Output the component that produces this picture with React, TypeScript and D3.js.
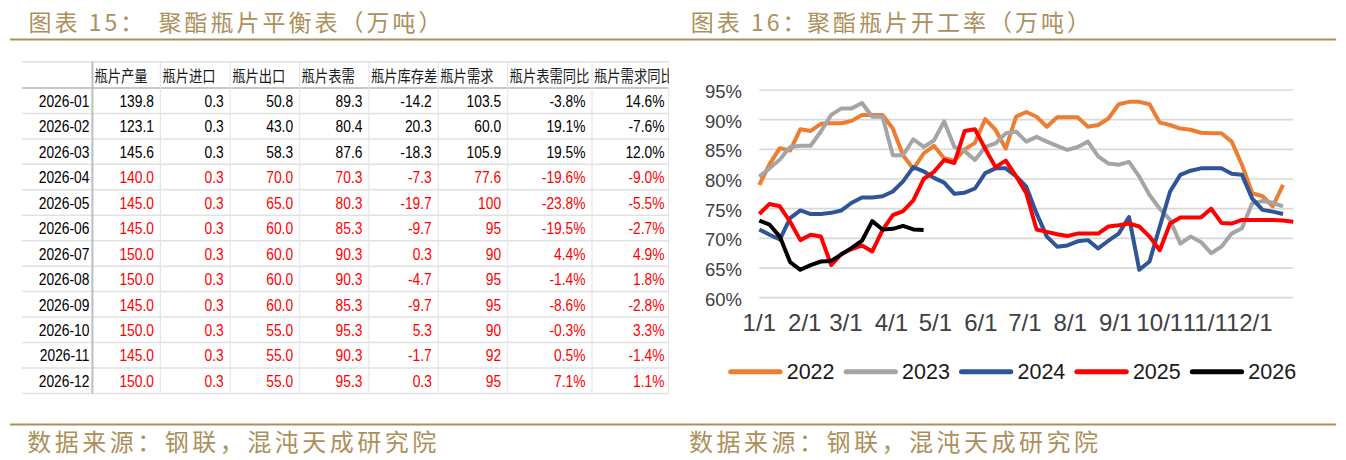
import { useRef, useEffect } from 'react';
import * as d3 from 'd3';

// ---- table data (万吨) ----
const tableMonths = ['2026-01', '2026-02', '2026-03', '2026-04', '2026-05', '2026-06', '2026-07', '2026-08', '2026-09', '2026-10', '2026-11', '2026-12'];
const tableHeaders = ['瓶片产量', '瓶片进口', '瓶片出口', '瓶片表需', '瓶片库存差', '瓶片需求', '瓶片表需同比', '瓶片需求同比'];
const output = ['139.8', '123.1', '145.6', '140.0', '145.0', '145.0', '150.0', '150.0', '145.0', '150.0', '145.0', '150.0'];
const imports = ['0.3', '0.3', '0.3', '0.3', '0.3', '0.3', '0.3', '0.3', '0.3', '0.3', '0.3', '0.3'];
const exports_ = ['50.8', '43.0', '58.3', '70.0', '65.0', '60.0', '60.0', '60.0', '60.0', '55.0', '55.0', '55.0'];
const apparent = ['89.3', '80.4', '87.6', '70.3', '80.3', '85.3', '90.3', '90.3', '85.3', '95.3', '90.3', '95.3'];
const invDiff = ['-14.2', '20.3', '-18.3', '-7.3', '-19.7', '-9.7', '0.3', '-4.7', '-9.7', '5.3', '-1.7', '0.3'];
const demand = ['103.5', '60.0', '105.9', '77.6', '100', '95', '90', '95', '95', '90', '92', '95'];
const apparentYoY = ['-3.8%', '19.1%', '19.5%', '-19.6%', '-23.8%', '-19.5%', '4.4%', '-1.4%', '-8.6%', '-0.3%', '0.5%', '7.1%'];
const demandYoY = ['14.6%', '-7.6%', '12.0%', '-9.0%', '-5.5%', '-2.7%', '4.9%', '1.8%', '-2.8%', '3.3%', '-1.4%', '1.1%'];
const actualRows = 3; // first 3 months are actuals (black), rest forecast (red)

// ---- operating rate, weekly (%) ----
const years = ['2022', '2023', '2024', '2025', '2026'];
const rate2022 = [79.0, 82.5, 85.2, 84.8, 88.4, 88.1, 89.3, 89.4, 89.4, 89.8, 90.8, 90.8, 90.8, 88.5, 84.0, 81.7, 84.3, 85.6, 83.5, 83.1, 85.0, 86.1, 90.1, 88.3, 85.1, 90.5, 91.3, 90.5, 88.8, 90.4, 90.4, 90.4, 88.8, 89.1, 90.2, 92.6, 93.0, 93.0, 92.6, 89.5, 89.1, 88.5, 88.3, 87.8, 87.7, 87.7, 86.3, 82.4, 77.6, 77.1, 75.4, 79.0];
const rate2023 = [80.4, 81.8, 83.3, 85.4, 85.6, 85.6, 88.0, 90.8, 91.9, 91.9, 92.8, 90.5, 90.5, 84.0, 84.0, 86.7, 85.4, 86.5, 89.7, 85.4, 84.7, 83.2, 85.4, 86.0, 87.7, 88.0, 86.3, 87.1, 86.3, 85.6, 84.9, 85.4, 86.3, 83.8, 82.6, 82.4, 82.9, 80.4, 77.3, 75.0, 73.1, 69.1, 70.3, 69.4, 67.5, 68.6, 70.8, 71.7, 75.9, 76.3, 76.0, 75.4];
const rate2024 = [71.5, 70.6, 69.8, 73.4, 74.7, 74.1, 74.1, 74.3, 74.7, 76.0, 76.9, 76.9, 77.1, 77.9, 79.6, 82.0, 81.3, 80.2, 79.4, 77.5, 77.7, 78.4, 81.0, 81.8, 81.8, 80.5, 78.7, 74.2, 70.3, 68.6, 68.8, 69.5, 69.7, 68.3, 69.6, 70.8, 73.6, 64.7, 66.1, 72.0, 77.9, 80.7, 81.4, 81.8, 81.8, 81.8, 80.9, 80.7, 76.7, 74.8, 74.5, 74.1];
const rate2025 = [74.1, 75.8, 75.4, 72.8, 69.7, 70.6, 70.3, 65.5, 67.4, 68.2, 68.8, 67.8, 71.4, 73.9, 74.6, 76.4, 80.0, 81.2, 83.2, 82.7, 88.1, 88.4, 85.1, 82.0, 83.1, 80.5, 77.6, 71.5, 71.1, 70.7, 70.4, 70.8, 70.8, 70.8, 72.0, 72.2, 72.5, 72.0, 70.3, 68.0, 72.5, 73.5, 73.5, 73.5, 75.0, 72.6, 72.5, 73.1, 73.1, 73.1, 73.1, 73.0, 72.8];
const rate2026 = [73.0, 72.3, 70.3, 66.0, 64.7, 65.5, 66.1, 66.2, 67.3, 68.4, 69.6, 72.9, 71.5, 71.6, 72.1, 71.5, 71.4];
const seriesColors = ['#ED7D31', '#A5A5A5', '#2F5597', '#FF0000', '#000000'];

const yTicks = [60, 65, 70, 75, 80, 85, 90, 95];
const monthLabels = ['1/1', '2/1', '3/1', '4/1', '5/1', '6/1', '7/1', '8/1', '9/1', '10/1', '11/1', '12/1'];
const monthDays = [0, 31, 59, 90, 120, 151, 181, 212, 243, 273, 304, 334];

const GOLD = '#AD8F5C';
const CJK = '"Noto Sans CJK SC", sans-serif';
const LATIN = '"Liberation Sans", Arial, sans-serif';

export default function App() {
  const svgRef = useRef<SVGSVGElement>(null);

  useEffect(() => {
    const svg = d3.select(svgRef.current!);
    svg.selectAll('*').remove();

    // ---- titles & footers ----
    const titleG = svg.append('g');
    const titles = [
      { x: 28.6, t: '图表 15：' },
      { x: 158.6, t: '聚酯瓶片平衡表（万吨）' },
      { x: 690.8, t: '图表 16：' },
      { x: 807, t: '聚酯瓶片开工率（万吨）' },
    ];
    titleG.selectAll('text.title')
      .data(titles)
      .join('text')
      .attr('x', (d) => d.x)
      .attr('y', 31)
      .attr('font-family', CJK)
      .attr('font-size', 23)
      .attr('letter-spacing', 3)
      .attr('fill', GOLD)
      .text((d) => d.t);
    titleG.append('line').attr('x1', 10).attr('x2', 1336).attr('y1', 39.5).attr('y2', 39.5)
      .attr('stroke', GOLD).attr('stroke-width', 2);
    titleG.append('line').attr('x1', 10).attr('x2', 1336).attr('y1', 424.5).attr('y2', 424.5)
      .attr('stroke', GOLD).attr('stroke-width', 2);
    titleG.selectAll('text.foot')
      .data([27.3, 689])
      .join('text')
      .attr('x', (d) => d)
      .attr('y', 451)
      .attr('font-family', CJK)
      .attr('font-size', 24)
      .attr('letter-spacing', 3.5)
      .attr('fill', GOLD)
      .text('数据来源：钢联，混沌天成研究院');

    // ---- table ----
    const tbl = svg.append('g');
    const colEdges = [22, 92.4, 160.4, 230.2, 299.6, 368.9, 438.3, 507.6, 592, 671];
    const tableRight = 669;
    const headerTop = 61.7;
    const headerBottom = 88;
    const rowH = 25.45;
    const rowY = (i: number) => headerBottom + rowH * (i + 0.5);
    const bottom = headerBottom + rowH * tableMonths.length;

    tbl.append('clipPath').attr('id', 'tclip')
      .append('rect').attr('x', 0).attr('y', 0).attr('width', tableRight).attr('height', 460);
    const tc = tbl.append('g').attr('clip-path', 'url(#tclip)');

    // horizontal grid
    const hLines = [headerTop, ...d3.range(tableMonths.length + 1).map((i) => headerBottom + rowH * i)];
    tc.selectAll('line.h').data(hLines).join('line')
      .attr('x1', 22).attr('x2', tableRight)
      .attr('y1', (d) => d).attr('y2', (d) => d)
      .attr('stroke', (d) => (d === headerBottom ? '#C8C8C8' : '#E1E1E1'))
      .attr('stroke-width', (d) => (d === headerBottom ? 2 : 1.5));
    // vertical grid
    tc.selectAll('line.v').data(colEdges.slice(1, -1)).join('line')
      .attr('x1', (d) => d).attr('x2', (d) => d)
      .attr('y1', headerTop).attr('y2', bottom)
      .attr('stroke', (d, i) => (i === 0 ? '#BDBDBD' : '#E6E6E6'))
      .attr('stroke-width', (d, i) => (i === 0 ? 2 : 1.2));
    tc.append('line').attr('x1', tableRight - 0.5).attr('x2', tableRight - 0.5)
      .attr('y1', headerTop).attr('y2', bottom).attr('stroke', '#E6E6E6').attr('stroke-width', 1.2);

    // headers
    tc.selectAll('text.hdr').data(tableHeaders).join('text')
      .attr('transform', (d, i) => `translate(${colEdges[i + 1] + 2},${76 + 6}) scale(1,1.2)`)
      .attr('font-family', CJK)
      .attr('font-size', 13.3)
      .attr('fill', '#1a1a1a')
      .text((d) => d);

    const columns = [output, imports, exports_, apparent, invDiff, demand, apparentYoY, demandYoY];
    const cellText = (x: number, y: number, t: string, color: string) =>
      tc.append('text')
        .attr('transform', `translate(${x},${y + 6.2}) scale(1,1.25)`)
        .attr('text-anchor', 'end')
        .attr('font-family', LATIN)
        .attr('font-size', 13.8)
        .attr('fill', color)
        .text(t);

    tableMonths.forEach((m, r) => {
      cellText(colEdges[1] - 3, rowY(r), m, '#000000');
      columns.forEach((col, c) => {
        cellText(colEdges[c + 2] - 6.5, rowY(r), col[r], r < actualRows ? '#000000' : '#FF0000');
      });
    });

    // ---- line chart ----
    const x = d3.scaleLinear().domain([0, 364]).range([759.3, 1293.3]);
    const y = d3.scaleLinear().domain([60, 95]).range([297.7, 90]);
    const ch = svg.append('g');

    ch.selectAll('line.grid').data(yTicks).join('line')
      .attr('x1', x(0)).attr('x2', x(364))
      .attr('y1', (d) => y(d)).attr('y2', (d) => y(d))
      .attr('stroke', '#D9D9D9').attr('stroke-width', 1.7);

    ch.selectAll('text.ytick').data(yTicks).join('text')
      .attr('x', 742).attr('y', (d) => y(d) + 1.5)
      .attr('text-anchor', 'end')
      .attr('dominant-baseline', 'central')
      .attr('font-family', LATIN)
      .attr('font-size', 18.5)
      .attr('fill', '#404040')
      .text((d) => `${d}%`);

    // month labels are wide and run into each other at the end, like the original
    ch.selectAll('text.xtick').data(monthLabels).join('text')
      .attr('x', (d, i) => x(monthDays[i]))
      .attr('y', 331)
      .attr('text-anchor', 'middle')
      .attr('font-family', LATIN)
      .attr('font-size', 24)
      .attr('fill', '#404040')
      .text((d) => d);

    const allSeries = [rate2022, rate2023, rate2024, rate2025, rate2026];
    const line = d3.line<number>()
      .x((d, i) => x(i * 7))
      .y((d) => y(d));

    ch.selectAll('path.series').data(allSeries).join('path')
      .attr('d', (d) => line(d))
      .attr('fill', 'none')
      .attr('stroke', (d, i) => seriesColors[i])
      .attr('stroke-width', 4)
      .attr('stroke-linejoin', 'round');

    // legend
    const leg = ch.selectAll('g.leg').data(years).join('g')
      .attr('transform', (d, i) => `translate(${728.2 + i * 115.4},371.7)`);
    leg.append('line')
      .attr('x1', 2.5).attr('x2', 51.8).attr('y1', 0).attr('y2', 0)
      .attr('stroke', (d, i) => seriesColors[i])
      .attr('stroke-width', 5)
      .attr('stroke-linecap', 'round');
    leg.append('text')
      .attr('x', 58.5).attr('y', 0)
      .attr('dominant-baseline', 'central')
      .attr('font-family', LATIN)
      .attr('font-size', 21.5)
      .attr('fill', '#1a1a1a')
      .text((d) => d);
  }, []);

  return (
    <svg
      ref={svgRef}
      width={1346}
      height={460}
      style={{ position: 'absolute', left: 0, top: 0, background: '#ffffff' }}
    />
  );
}
